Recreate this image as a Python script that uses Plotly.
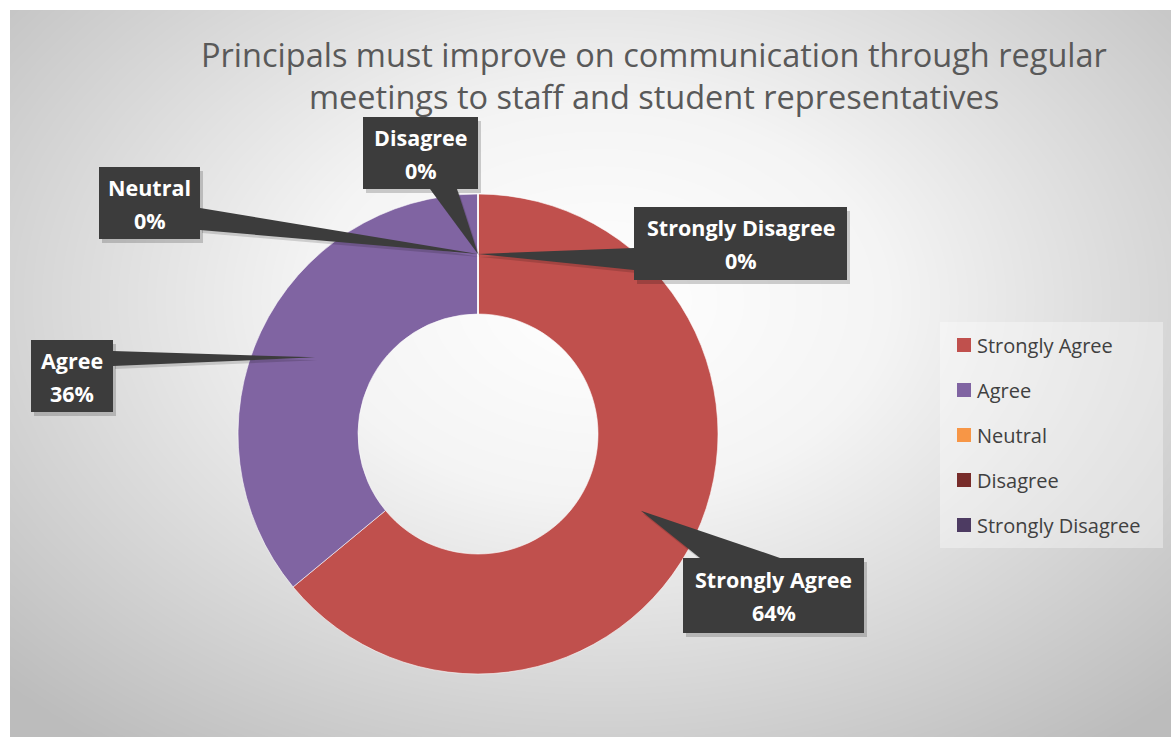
import numpy as np
import plotly.graph_objects as go

# Survey responses
categories = ["Strongly Agree", "Agree", "Neutral", "Disagree", "Strongly Disagree"]
values = [64, 36, 0, 0, 0]
colors = ["#C0504D", "#8064A2", "#F79646", "#772C2A", "#4D3B62"]
title_lines = ["Principals must improve on communication through regular",
               "meetings to staff and student representatives"]

# Canvas geometry (pixel units; the hidden axes map 1:1 to screen pixels)
W, H = 1171, 737
L, T = 10, 10
cx, cy, r_out = 478, 434, 240
hole = 0.5
r_mid = r_out * (1 + hole) / 2

FONT = "Open Sans"

# Callout boxes (x0, y0, x1, y1) and the base of each pointer on the box edge
boxes = [(683, 558, 864, 633), (31, 340, 113, 412), (99, 167, 200, 239),
         (363, 117, 478, 189), (634, 207, 847, 280)]
bases = [((700, 558), (780, 558)), ((113, 351), (113, 366)), ((200, 208), (200, 230)),
         ((430, 189), (457, 189)), ((634, 248), (634, 270))]

fig = go.Figure()

# Soft radial background
gx = np.linspace(L, W, 120)
gy = np.linspace(T, H, 80)
XX, YY = np.meshgrid(gx, gy)
dist = np.sqrt(((XX - 600) / 820) ** 2 + ((YY - 300) / 560) ** 2)
fig.add_trace(go.Heatmap(x=gx, y=gy, z=np.clip(dist, 0, 1),
                         colorscale=[[0, "#ffffff"], [0.35, "#f4f4f4"], [1, "#bcbcbc"]],
                         zmin=0, zmax=1, zsmooth="best", showscale=False,
                         hoverinfo="skip"))

plot_w, plot_h = W - L, H - T
fig.add_trace(go.Pie(
    labels=categories, values=values, hole=hole, sort=False,
    direction="clockwise", rotation=0,
    marker=dict(colors=colors, line=dict(color="rgba(255,255,255,0.6)", width=1)),
    textinfo="none", showlegend=False, hoverinfo="label+percent",
    domain=dict(x=[(cx - r_out - L) / plot_w, (cx + r_out - L) / plot_w],
                y=[(H - (cy + r_out)) / plot_h, (H - (cy - r_out)) / plot_h]),
))

shapes = []
annotations = []

# Chart frame edge
shapes.append(dict(type="rect", xref="x", yref="y", x0=L, y0=T, x1=W + 2, y1=H + 2,
                   line=dict(color="#cfcfcf", width=1), fillcolor="rgba(0,0,0,0)",
                   layer="below"))

total = sum(values)
cum = np.concatenate([[0], np.cumsum(values)]) / total
box_fill = "#3c3c3c"
for i, cat in enumerate(categories):
    mid = (cum[i] + cum[i + 1]) / 2
    ang = 2 * np.pi * mid
    tx = cx + r_mid * np.sin(ang)
    ty = cy - r_mid * np.cos(ang)
    x0, y0, x1, y1 = boxes[i]
    (bx0, by0), (bx1, by1) = bases[i]
    # shadows
    shapes.append(dict(type="rect", xref="x", yref="y", x0=x0 + 3, y0=y0 + 4, x1=x1 + 3, y1=y1 + 4,
                       fillcolor="rgba(0,0,0,0.18)", line=dict(width=0), layer="above"))
    shapes.append(dict(type="path", xref="x", yref="y",
                       path=f"M {bx0+2},{by0+3} L {tx+2},{ty+3} L {bx1+2},{by1+3} Z",
                       fillcolor="rgba(0,0,0,0.15)", line=dict(width=0), layer="above"))
    # pointer and box
    shapes.append(dict(type="path", xref="x", yref="y",
                       path=f"M {bx0},{by0} L {tx},{ty} L {bx1},{by1} Z",
                       fillcolor=box_fill, line=dict(width=0), layer="above"))
    shapes.append(dict(type="rect", xref="x", yref="y", x0=x0, y0=y0, x1=x1, y1=y1,
                       fillcolor=box_fill, line=dict(width=0), layer="above"))
    mx, my = (x0 + x1) / 2, (y0 + y1) / 2
    pct = f"{round(values[i] / total * 100)}%"
    annotations.append(dict(x=mx, y=my - 16, xref="x", yref="y", text=f"<b>{cat}</b>",
                            showarrow=False, font=dict(family=FONT, size=21.5, color="white")))
    annotations.append(dict(x=mx, y=my + 17, xref="x", yref="y", text=f"<b>{pct}</b>",
                            showarrow=False, font=dict(family=FONT, size=21.5, color="white")))

# Legend panel
shapes.append(dict(type="rect", xref="x", yref="y", x0=940, y0=322, x1=1163, y1=548,
                   fillcolor="rgba(255,255,255,0.35)", line=dict(width=0), layer="above"))
for i, cat in enumerate(categories):
    ly = 345 + 45 * i
    shapes.append(dict(type="rect", xref="x", yref="y", x0=957, y0=ly - 7, x1=971, y1=ly + 7,
                       fillcolor=colors[i], line=dict(width=0), layer="above"))
    annotations.append(dict(x=975, y=ly, xref="x", yref="y", text=cat, xanchor="left",
                            showarrow=False, font=dict(family=FONT, size=20, color="#404040")))

# Title
for k, line in enumerate(title_lines):
    annotations.append(dict(x=654, y=54 + 42 * k, xref="x", yref="y", text=line,
                            showarrow=False, font=dict(family=FONT, size=32.5, color="#595959")))

fig.update_layout(
    width=W, height=H,
    margin=dict(l=L, r=0, t=T, b=0),
    paper_bgcolor="white", plot_bgcolor="white",
    xaxis=dict(range=[L, W], visible=False, fixedrange=True),
    yaxis=dict(range=[H, T], visible=False, fixedrange=True),
    shapes=shapes, annotations=annotations,
    showlegend=False,
)

fig.write_html("out.html")
